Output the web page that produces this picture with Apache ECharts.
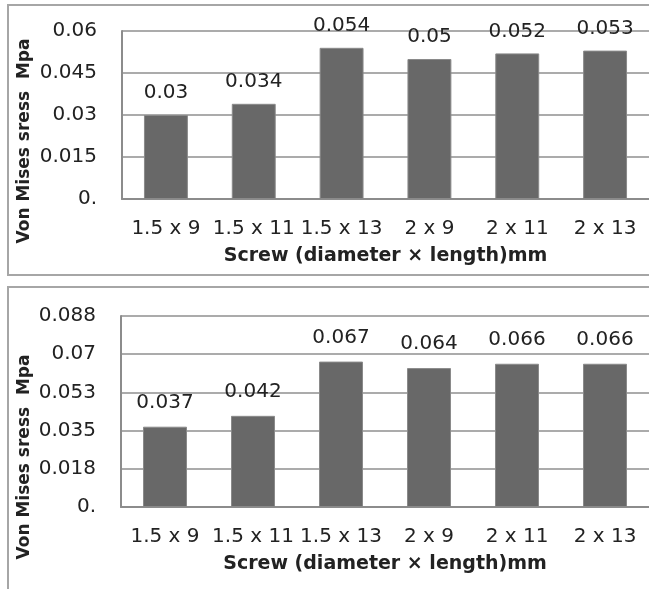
<!DOCTYPE html>
<html>
<head>
<meta charset="utf-8">
<script src="https://cdn.jsdelivr.net/npm/echarts@6/dist/echarts.min.js"></script>
<style>
  html, body { margin: 0; padding: 0; background: #fff; }
  #main { width: 649px; height: 589px; }
</style>
</head>
<body>
<div id="main"></div>
<script>
    // 螺钉尺寸
    var screws = ['1.5 x 9', '1.5 x 11', '1.5 x 13', '2 x 9', '2 x 11', '2 x 13'];
    // 上图应力值
    var stressTop = [0.03, 0.034, 0.054, 0.05, 0.052, 0.053];
    // 下图应力值
    var stressBottom = [0.037, 0.042, 0.067, 0.064, 0.066, 0.066];
    var yTitle = 'Von Mises sress  Mpa';
    var xTitle = 'Screw (diameter \u00d7 length)mm';

    var myChart = echarts.init(document.getElementById('main'));

    var font = 'DejaVu Sans';

    function tickFmt(v) {
        if (v === 0) return '0.';
        return String(parseFloat(v.toFixed(3)));
    }

    function makeX(idx) {
        return {
            type: 'category',
            gridIndex: idx,
            data: screws,
            axisTick: { show: false },
            axisLine: { lineStyle: { color: '#8c8c8c', width: 2 } },
            axisLabel: { interval: 0, color: '#222', fontFamily: font, fontSize: 20, margin: 20 },
            name: xTitle,
            nameLocation: 'middle',
            nameGap: 48,
            nameTextStyle: { color: '#222', fontFamily: font, fontSize: 19, fontWeight: 'bold' }
        };
    }

    function makeY(idx, max, step) {
        return {
            type: 'value',
            gridIndex: idx,
            min: 0,
            max: max,
            interval: step,
            axisLine: { show: true, lineStyle: { color: '#8c8c8c', width: 2 } },
            axisTick: { show: false },
            splitLine: { lineStyle: { color: '#ababab', width: 2 } },
            axisLabel: { color: '#222', fontFamily: font, fontSize: 20, margin: 25, formatter: tickFmt }
        };
    }

    function makeBar(idx, values, dist) {
        return {
            type: 'bar',
            xAxisIndex: idx,
            yAxisIndex: idx,
            data: values,
            barCategoryGap: '50%',
            itemStyle: { color: '#686868', borderColor: '#8a8a8a', borderWidth: 1 },
            label: {
                show: true,
                position: 'top',
                distance: dist,
                color: '#222',
                fontFamily: font,
                fontSize: 20,
                formatter: function (p) { return String(p.value); }
            }
        };
    }

    var option = {
        animation: false,
        grid: [
            { left: 122, top: 31, width: 534, height: 168 },
            { left: 121, top: 316, width: 534, height: 191 }
        ],
        xAxis: [makeX(0), makeX(1)],
        yAxis: [makeY(0, 0.06, 0.015), makeY(1, 0.088, 0.0176)],
        series: [makeBar(0, stressTop, 12), makeBar(1, stressBottom, 14)],
        graphic: [
            // 面板边框
            { type: 'rect', shape: { x: 8, y: 5, width: 680, height: 270 },
              style: { fill: null, stroke: '#a6a6a6', lineWidth: 2 } },
            { type: 'rect', shape: { x: 8, y: 287, width: 680, height: 340 },
              style: { fill: null, stroke: '#a6a6a6', lineWidth: 2 } },
            // 纵轴标题
            { type: 'text', x: 25, y: 141, rotation: Math.PI / 2,
              style: { text: yTitle, fill: '#222', font: 'bold 17px "DejaVu Sans"', textAlign: 'center', textVerticalAlign: 'middle' } },
            { type: 'text', x: 25, y: 457, rotation: Math.PI / 2,
              style: { text: yTitle, fill: '#222', font: 'bold 17px "DejaVu Sans"', textAlign: 'center', textVerticalAlign: 'middle' } }
        ]
    };

    myChart.setOption(option);
</script>
</body>
</html>
